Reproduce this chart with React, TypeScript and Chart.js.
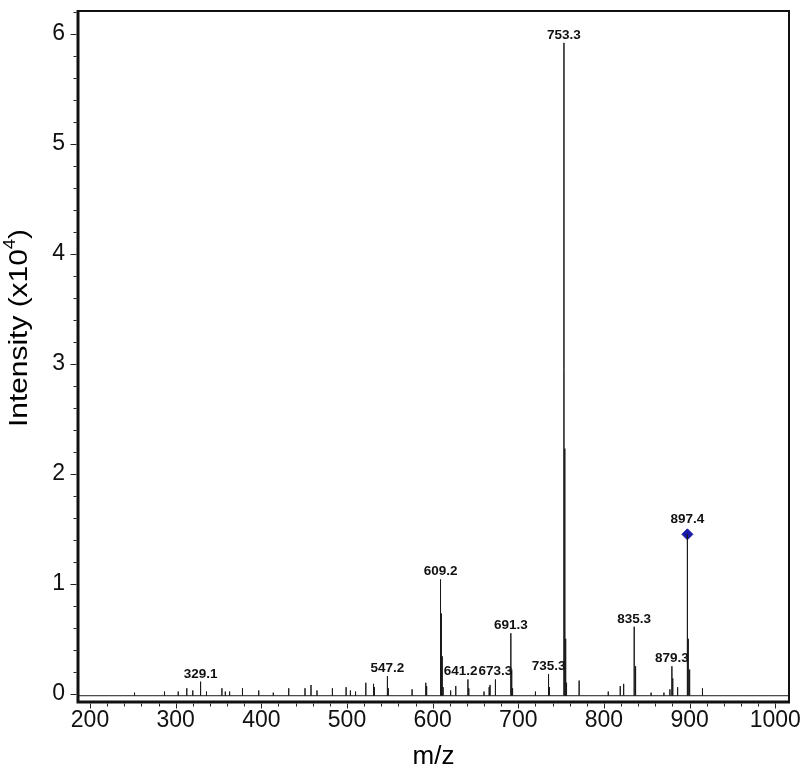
import React, { useEffect, useRef } from "react";
import { Chart, registerables } from "chart.js";

Chart.register(...registerables);

// ---- data (m/z, intensity x10^4) ----
const peakMz = [
  252, 287, 303, 313, 320, 329.1, 336, 354, 358, 363, 378, 397, 414, 432, 451, 458, 465,
  483, 499, 504, 510, 522, 531, 532, 547.2, 548.2, 576, 592, 593, 609.2, 610.2, 611.2,
  612.2, 621, 627, 641.2, 642.2, 660, 666, 667, 673.3, 691.3, 692.3, 693.3, 720, 735.3,
  736.3, 753.3, 754.3, 755.3, 756.3, 771, 805, 819, 823, 835.3, 836.3, 837.3, 855, 870,
  877, 879.3, 880.3, 886, 897.4, 898.4, 899.4, 900.4, 915,
];
const peakIntensity = [
  0.01, 0.02, 0.02, 0.05, 0.03, 0.11, 0.02, 0.05, 0.02, 0.02, 0.05, 0.03, 0.01, 0.05, 0.05,
  0.08, 0.03, 0.05, 0.06, 0.03, 0.02, 0.1, 0.09, 0.06, 0.16, 0.05, 0.04, 0.1, 0.07, 1.04,
  0.73, 0.34, 0.06, 0.03, 0.07, 0.13, 0.05, 0.02, 0.06, 0.08, 0.13, 0.55, 0.22, 0.05, 0.02,
  0.18, 0.06, 5.92, 2.23, 0.5, 0.1, 0.12, 0.02, 0.07, 0.09, 0.61, 0.25, 0.04, 0.01, 0.01,
  0.04, 0.25, 0.14, 0.06, 1.45, 0.5, 0.22, 0.05, 0.05,
];
const labelMz = [329.1, 547.2, 609.2, 641.2, 673.3, 691.3, 735.3, 753.3, 835.3, 879.3, 897.4];
const labelIntensity = [0.11, 0.16, 1.04, 0.13, 0.13, 0.55, 0.18, 5.92, 0.61, 0.25, 1.45];
const labelText = ["329.1", "547.2", "609.2", "641.2", "673.3", "691.3", "735.3", "753.3", "835.3", "879.3", "897.4"];
const precursorMz = [897.4];
const precursorIntensity = [1.45];
const xTickValues = [200, 300, 400, 500, 600, 700, 800, 900, 1000];
const yTickValues = [0, 1, 2, 3, 4, 5, 6];
const baselineLevel = -0.018;
const xMin = 186;
const xMax = 1016;
const yMin = -0.075;
const yMax = 6.21;

const FONT = "'Liberation Sans', Arial, sans-serif";

function buildSpectrum() {
  const pts: { x: number; y: number }[] = [{ x: xMin, y: baselineLevel }];
  for (let i = 0; i < peakMz.length; i++) {
    pts.push({ x: peakMz[i], y: baselineLevel });
    pts.push({ x: peakMz[i], y: peakIntensity[i] });
    pts.push({ x: peakMz[i], y: baselineLevel });
  }
  pts.push({ x: xMax, y: baselineLevel });
  return pts;
}

const decorPlugin = {
  id: "decor",
  afterDraw(chart: any) {
    const { ctx, chartArea, scales } = chart;
    const xs = scales.x;
    const ys = scales.y;
    const { left, right, top, bottom } = chartArea;
    ctx.save();
    // frame
    ctx.strokeStyle = "#111";
    ctx.lineWidth = 2;
    ctx.strokeRect(left, top, right - left, bottom - top);
    ctx.lineWidth = 3;
    ctx.beginPath();
    ctx.moveTo(left, top - 1);
    ctx.lineTo(left, bottom);
    ctx.lineTo(right + 1, bottom);
    ctx.stroke();
    // ticks
    ctx.lineWidth = 1;
    ctx.strokeStyle = "#222";
    ctx.beginPath();
    for (let k = 0; k <= 31; k++) {
      const v = k * 0.2;
      const y = Math.round(ys.getPixelForValue(v)) + 0.5;
      const len = k % 5 === 0 ? 6 : 3;
      ctx.moveTo(left - 1.5 - len, y);
      ctx.lineTo(left - 1.5, y);
    }
    for (let v = 200; v <= 1010; v += 20) {
      const x = Math.round(xs.getPixelForValue(v)) + 0.5;
      const len = v % 100 === 0 ? 5 : 3;
      ctx.moveTo(x, bottom + 1.5);
      ctx.lineTo(x, bottom + 1.5 + len);
    }
    ctx.stroke();
    // peak labels with simple overlap avoidance
    ctx.fillStyle = "#111";
    ctx.font = `bold 13.5px ${FONT}`;
    ctx.textAlign = "center";
    ctx.textBaseline = "alphabetic";
    const boxes = labelMz.map((m, i) => {
      const w = ctx.measureText(labelText[i]).width;
      let y = ys.getPixelForValue(labelIntensity[i]) - 4;
      if (precursorMz.includes(m)) y -= 7;
      return { x: xs.getPixelForValue(m), y, w };
    });
    for (let i = 1; i < boxes.length; i++) {
      const a = boxes[i - 1];
      const b = boxes[i];
      if (Math.abs(a.y - b.y) < 14) {
        const overlap = a.x + a.w / 2 + 1 - (b.x - b.w / 2);
        if (overlap > 0) a.x -= overlap;
      }
    }
    boxes.forEach((b, i) => ctx.fillText(labelText[i], b.x, b.y));

    // axis titles
    ctx.font = `26px ${FONT}`;
    ctx.textAlign = "center";
    ctx.textBaseline = "middle";
    ctx.fillStyle = "#000";
    ctx.fillText("m/z", (left + right) / 2, 757);

    ctx.translate(18, 328);
    ctx.rotate(-Math.PI / 2);
    ctx.scale(1.15, 1);
    const main = "Intensity (x10";
    const sup = "4";
    const close = ")";
    ctx.font = `26px ${FONT}`;
    const w1 = ctx.measureText(main).width;
    const w3 = ctx.measureText(close).width;
    ctx.font = `16px ${FONT}`;
    const w2 = ctx.measureText(sup).width;
    const total = w1 + w2 + w3;
    let cx = -total / 2;
    ctx.textAlign = "left";
    ctx.textBaseline = "alphabetic";
    ctx.font = `26px ${FONT}`;
    ctx.fillText(main, cx, 9);
    cx += w1;
    ctx.font = `16px ${FONT}`;
    ctx.fillText(sup, cx, -3);
    cx += w2;
    ctx.font = `26px ${FONT}`;
    ctx.fillText(close, cx, 9);
    ctx.restore();
  },
};

export default function App() {
  const ref = useRef<HTMLCanvasElement | null>(null);
  useEffect(() => {
    if (!ref.current) return;
    const chart = new Chart(ref.current, {
      type: "scatter",
      data: {
        datasets: [
          {
            data: buildSpectrum(),
            showLine: true,
            borderColor: "#1a1a1a",
            borderWidth: 1,
            pointRadius: 0,
            tension: 0,
          },
          {
            data: precursorMz.map((m, i) => ({ x: m, y: precursorIntensity[i] })),
            pointStyle: "rectRot",
            pointRadius: 5.5,
            backgroundColor: "#1a1aa8",
            borderColor: "#1a1aa8",
            showLine: false,
          },
        ],
      },
      options: {
        animation: false,
        responsive: false,
        devicePixelRatio: 1,
        layout: { padding: { top: 11, right: 11, left: 0, bottom: 0 } },
        plugins: { legend: { display: false }, tooltip: { enabled: false } },
        scales: {
          x: {
            type: "linear",
            min: xMin,
            max: xMax,
            grid: { display: false, drawTicks: false },
            border: { display: false },
            afterBuildTicks: (s: any) => {
              s.ticks = xTickValues.map((v) => ({ value: v }));
            },
            afterFit: (s: any) => {
              s.height = 71;
              s.paddingLeft = 0;
              s.paddingRight = 0;
            },
            ticks: {
              autoSkip: false,
              maxRotation: 0,
              padding: 5,
              color: "#111",
              font: { family: FONT, size: 23 },
              callback: (v: any) => String(v),
            },
          },
          y: {
            type: "linear",
            min: yMin,
            max: yMax,
            grid: { display: false, drawTicks: false },
            border: { display: false },
            afterBuildTicks: (s: any) => {
              s.ticks = yTickValues.map((v) => ({ value: v }));
            },
            afterFit: (s: any) => {
              s.width = 78;
              s.paddingTop = 0;
              s.paddingBottom = 0;
            },
            ticks: {
              padding: 13,
              color: "#111",
              font: { family: FONT, size: 23 },
              callback: (v: any) => String(v),
            },
          },
        },
      },
      plugins: [decorPlugin],
    });
    return () => chart.destroy();
  }, []);
  return (
    <div style={{ position: "absolute", left: 0, top: 0, width: 800, height: 773, background: "#fff" }}>
      <canvas ref={ref} width={800} height={773} style={{ display: "block" }} />
    </div>
  );
}
